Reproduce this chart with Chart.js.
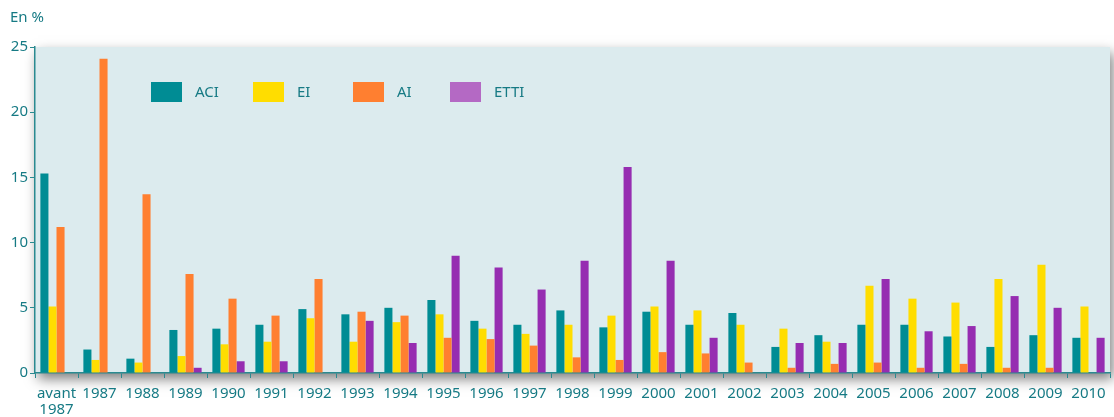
<!DOCTYPE html>
<html>
<head>
<meta charset="utf-8">
<script src="https://cdn.jsdelivr.net/npm/chart.js@4/dist/chart.umd.min.js"></script>
<style>
  html, body { margin: 0; background: #fff; }
  #wrap { width: 1114px; height: 417px; position: relative; }
</style>
</head>
<body>
<div id="wrap"><canvas id="chart"></canvas></div>
<script>
// categories
const years = [['avant', '1987'], '1987', '1988', '1989', '1990', '1991', '1992', '1993', '1994',
  '1995', '1996', '1997', '1998', '1999', '2000', '2001', '2002', '2003', '2004', '2005',
  '2006', '2007', '2008', '2009', '2010'];

// series (en %)
const aci  = [15.3, 1.8, 1.1, 3.3, 3.4, 3.7, 4.9, 4.5, 5.0, 5.6, 4.0, 3.7, 4.8, 3.5, 4.7, 3.7, 4.6, 2.0, 2.9, 3.7, 3.7, 2.8, 2.0, 2.9, 2.7];
const ei   = [5.1, 1.0, 0.8, 1.3, 2.2, 2.4, 4.2, 2.4, 3.9, 4.5, 3.4, 3.0, 3.7, 4.4, 5.1, 4.8, 3.7, 3.4, 2.4, 6.7, 5.7, 5.4, 7.2, 8.3, 5.1];
const ai   = [11.2, 24.1, 13.7, 7.6, 5.7, 4.4, 7.2, 4.7, 4.4, 2.7, 2.6, 2.1, 1.2, 1.0, 1.6, 1.5, 0.8, 0.4, 0.7, 0.8, 0.4, 0.7, 0.4, 0.4, 0];
const etti = [0, 0, 0, 0.4, 0.9, 0.9, 0, 4.0, 2.3, 9.0, 8.1, 6.4, 8.6, 15.8, 8.6, 2.7, 0, 2.3, 2.3, 7.2, 3.2, 3.6, 5.9, 5.0, 2.7];

// y ticks
const yTicks = [0, 5, 10, 15, 20, 25];

const TEAL_TEXT = '#167a84';
const AXIS = '#2a8a90';
const FONT = '"Noto Sans", "Open Sans", sans-serif';

// plot background with soft shadow
const plotBg = {
  id: 'plotBg',
  beforeDraw(chart) {
    const { ctx, chartArea: a } = chart;
    ctx.save();
    ctx.shadowColor = 'rgba(0,0,0,0.5)';
    ctx.shadowBlur = 12;
    ctx.shadowOffsetX = 3;
    ctx.shadowOffsetY = 6;
    ctx.fillStyle = '#dcebee';
    ctx.fillRect(a.left, a.top, a.right - a.left, a.bottom - a.top);
    ctx.restore();
  }
};

// legend drawn inside the plot area
const innerLegend = {
  id: 'innerLegend',
  afterDraw(chart) {
    const { ctx } = chart;
    const xs = [151, 253, 353, 450];
    const y = 92;
    ctx.save();
    ctx.font = '15px ' + FONT;
    ctx.textBaseline = 'middle';
    chart.data.datasets.forEach((ds, i) => {
      ctx.fillStyle = ds.legendColor || ds.backgroundColor;
      ctx.fillRect(xs[i], y - 10, 31, 20);
      ctx.fillStyle = TEAL_TEXT;
      ctx.fillText(ds.label, xs[i] + 44, y + 1);
    });
    ctx.restore();
  }
};

new Chart(document.getElementById('chart'), {
  type: 'bar',
  data: {
    labels: years,
    datasets: [
      { label: 'ACI', data: aci, backgroundColor: '#008c94' },
      { label: 'EI', data: ei, backgroundColor: '#ffdd00' },
      { label: 'AI', data: ai, backgroundColor: '#ff7f30' },
      { label: 'ETTI', data: etti, backgroundColor: '#962db1', legendColor: '#b469c4' }
    ]
  },
  options: {
    responsive: true,
    maintainAspectRatio: false,
    animation: false,
    categoryPercentage: 0.75,
    barPercentage: 1.0,
    layout: { padding: { left: 10, right: 4, top: 0, bottom: 0 } },
    plugins: {
      legend: { display: false },
      tooltip: { enabled: false },
      title: {
        display: true,
        text: 'En %',
        align: 'start',
        color: TEAL_TEXT,
        font: { family: FONT, size: 15, weight: 'normal' },
        padding: { top: 9, bottom: 20 }
      }
    },
    scales: {
      x: {
        grid: { display: true, offset: true, drawOnChartArea: false, drawTicks: true, tickLength: 5, color: AXIS },
        border: { color: AXIS, width: 1.5 },
        ticks: { color: TEAL_TEXT, font: { family: FONT, size: 15, lineHeight: 1.05 }, padding: 8, maxRotation: 0, autoSkip: false },
        afterFit(s) { s.height = 44; }
      },
      y: {
        min: 0,
        max: 25,
        afterBuildTicks(s) { s.ticks = yTicks.map(v => ({ value: v })); },
        grid: { display: true, drawOnChartArea: false, drawTicks: true, tickLength: 5, color: AXIS },
        border: { color: AXIS, width: 1.5 },
        ticks: { color: TEAL_TEXT, font: { family: FONT, size: 15 }, padding: 2 },
        afterFit(s) { s.width = 25; }
      }
    }
  },
  plugins: [plotBg, innerLegend]
});
</script>
</body>
</html>
